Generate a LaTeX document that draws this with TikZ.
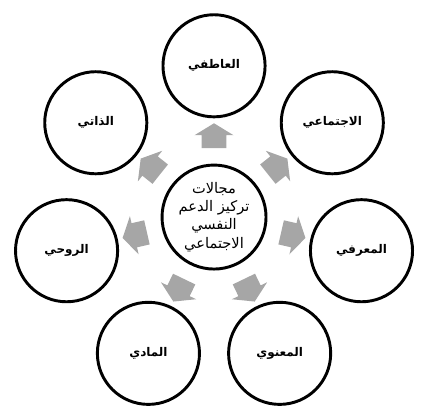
\documentclass[tikz,border=0pt]{standalone}
\usepackage{fontspec}
\newfontfamily\arabicfont[Script=Arabic]{DejaVu Sans}
\TeXXeTstate=1
\usetikzlibrary{shapes.arrows}
\definecolor{arrowgray}{RGB}{166,166,166}
\newcommand{\artext}[1]{\beginR #1\endR}

\begin{document}
\begin{tikzpicture}[
  areacircle/.style = {draw, circle, line width=2.2pt, minimum size=2.7cm, inner sep=0pt,
                       font=\arabicfont\bfseries\fontsize{9}{11}\selectfont},
  pointer/.style = {single arrow, fill=arrowgray, draw=none, inner xsep=0pt, inner ysep=0.32cm,
                    minimum height=0.66cm, single arrow head extend=0.19cm,
                    single arrow tip angle=117}]
\useasboundingbox (-5.66,-5.345) rectangle (5.87,5.74);

\node[areacircle, minimum size=2.75cm, align=center,
      font=\arabicfont\fontsize{11}{13.7}\selectfont] (core) at (0,0)
  {\artext{مجالات}\\ \artext{تركيز  الدعم}\\ \artext{النفسي}\\ \artext{الاجتماعي}};

\node[areacircle] (emotional) at (90:4) {\artext{العاطفي}};
\node[areacircle] (social) at (38.57:4) {\artext{الاجتماعي}};
\node[areacircle] (cognitive) at (-12.86:4) {\artext{المعرفي}};
\node[areacircle] (moral) at (-64.29:4) {\artext{المعنوي}};
\node[areacircle] (material) at (-115.71:4) {\artext{المادي}};
\node[areacircle] (spiritual) at (-167.14:4) {\artext{الروحي}};
\node[areacircle] (self) at (141.43:4) {\artext{الذاتي}};

\node[pointer, rotate=90] (toemotional) at (90:2.05) {};
\node[pointer, rotate=38.57] (tosocial) at (38.57:2.05) {};
\node[pointer, rotate=-12.86] (tocognitive) at (-12.86:2.05) {};
\node[pointer, rotate=-64.29] (tomoral) at (-64.29:2.05) {};
\node[pointer, rotate=-115.71] (tomaterial) at (-115.71:2.05) {};
\node[pointer, rotate=-167.14] (tospiritual) at (-167.14:2.05) {};
\node[pointer, rotate=141.43] (toself) at (141.43:2.05) {};
\end{tikzpicture}
\end{document}
